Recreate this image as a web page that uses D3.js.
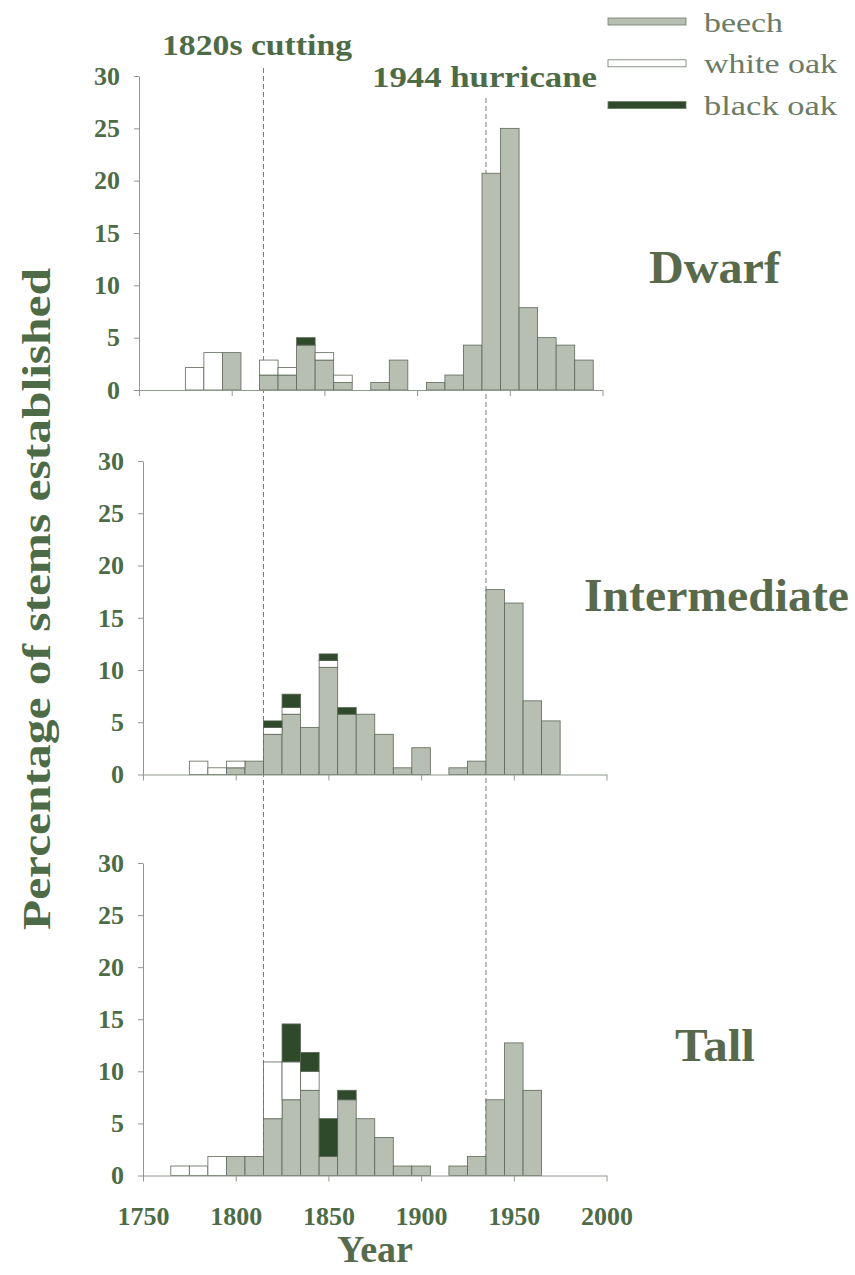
<!DOCTYPE html>
<html>
<head>
<meta charset="utf-8">
<script src="https://cdn.jsdelivr.net/npm/d3@7"></script>
<style>
  html, body { margin: 0; padding: 0; background: #fff; }
  svg { display: block; font-family: "Liberation Serif", "Times New Roman", serif; }
</style>
</head>
<body>
<svg id="chart" width="855" height="1275"></svg>
<script>
// 10-year bins, labelled by their centre year
const years = [1770, 1780, 1790, 1800, 1810, 1820, 1830, 1840, 1850, 1860, 1870, 1880,
  1890, 1900, 1910, 1920, 1930, 1940, 1950, 1960, 1970, 1980, 1990];

const species = ["beech", "white oak", "black oak"];

const dwarfBeech = [0, 0, 0, 3.57, 0, 1.43, 1.43, 4.29, 2.86, 0.71, 0, 0.71,
  2.86, 0, 0.71, 1.43, 4.29, 20.71, 25.0, 7.86, 5.0, 4.29, 2.86];
const dwarfWhite = [0, 2.14, 3.57, 0, 0, 1.43, 0.71, 0, 0.71, 0.71, 0, 0,
  0, 0, 0, 0, 0, 0, 0, 0, 0, 0, 0];
const dwarfBlack = [0, 0, 0, 0, 0, 0, 0, 0.71, 0, 0, 0, 0,
  0, 0, 0, 0, 0, 0, 0, 0, 0, 0, 0];

const interBeech = [0, 0, 0, 0.64, 1.28, 3.85, 5.77, 4.49, 10.26, 5.77, 5.77, 3.85,
  0.64, 2.56, 0, 0.64, 1.28, 17.69, 16.41, 7.05, 5.13, 0, 0];
const interWhite = [0, 1.28, 0.64, 0.64, 0, 0.64, 0.64, 0, 0.64, 0, 0, 0,
  0, 0, 0, 0, 0, 0, 0, 0, 0, 0, 0];
const interBlack = [0, 0, 0, 0, 0, 0.64, 1.28, 0, 0.64, 0.64, 0, 0,
  0, 0, 0, 0, 0, 0, 0, 0, 0, 0, 0];

const tallBeech = [0, 0, 0, 1.82, 1.82, 5.45, 7.27, 8.18, 1.82, 7.27, 5.45, 3.64,
  0.91, 0.91, 0, 0.91, 1.82, 7.27, 12.73, 8.18, 0, 0, 0];
const tallWhite = [0.91, 0.91, 1.82, 0, 0, 5.45, 3.64, 1.82, 0, 0, 0, 0,
  0, 0, 0, 0, 0, 0, 0, 0, 0, 0, 0];
const tallBlack = [0, 0, 0, 0, 0, 0, 3.64, 1.82, 3.64, 0.91, 0, 0,
  0, 0, 0, 0, 0, 0, 0, 0, 0, 0, 0];

const panelNames = ["Dwarf", "Intermediate", "Tall"];
const panelSeries = [
  [dwarfBeech, dwarfWhite, dwarfBlack],
  [interBeech, interWhite, interBlack],
  [tallBeech, tallWhite, tallBlack]
];

const yTicks = [0, 5, 10, 15, 20, 25, 30];
const xTicks = [1750, 1800, 1850, 1900, 1950, 2000];

const events = [
  { year: 1815, label: "1820s cutting" },
  { year: 1935, label: "1944 hurricane" }
];

// ---- layout ----
const green = "#4e6b47";
const axisGrey = "#8e9a8b";
const fills = { "beech": "#b7beb2", "white oak": "#ffffff", "black oak": "#2f4a2b" };

// each panel: baseline, top (value 30), small horizontal offset of the scan
const panelLayout = [
  { y0: 390, y1: 76, dx: -4, label: { x: 649, y: 283, w: 131 } },
  { y0: 774.5, y1: 461, dx: 0, label: { x: 584, y: 611, w: 265 } },
  { y0: 1175.5, y1: 863, dx: 0, label: { x: 675, y: 1061, w: 80 } }
];

const svg = d3.select("#chart");
const x = d3.scaleLinear().domain([1750, 2000]).range([143, 606.5]);

// event lines, drawn first so the bars sit on top
const eventLayout = [{ top: 68, lx: 162, ly: 55, w: 190 }, { top: 98, lx: 372, ly: 87, w: 225 }];
events.forEach((ev, i) => {
  const L = eventLayout[i];
  svg.append("line")
    .attr("x1", x(ev.year)).attr("x2", x(ev.year))
    .attr("y1", L.top).attr("y2", panelLayout[2].y0)
    .attr("stroke", "#857a74").attr("stroke-width", 1)
    .attr("stroke-dasharray", "5,3");
  svg.append("text")
    .attr("x", L.lx).attr("y", L.ly)
    .attr("font-size", 30).attr("font-weight", "bold")
    .attr("fill", green)
    .attr("textLength", L.w).attr("lengthAdjust", "spacingAndGlyphs")
    .text(ev.label);
});

panelNames.forEach((name, p) => {
  const P = panelLayout[p];
  const px = x.copy().range(x.range().map(v => v + P.dx));
  const y = d3.scaleLinear().domain([0, 30]).range([P.y0, P.y1]);
  const g = svg.append("g");

  // stacked bars: beech at the bottom, white oak, black oak on top
  const series = panelSeries[p];
  const rows = years.map((yr, i) => {
    const o = { year: yr };
    species.forEach((s, k) => { o[s] = series[k][i]; });
    return o;
  });
  const stack = d3.stack().keys(species)(rows);
  stack.forEach(layer => {
    g.append("g")
      .selectAll("rect")
      .data(layer.filter(d => d[1] - d[0] > 0))
      .join("rect")
      .attr("x", d => px(d.data.year - 5))
      .attr("width", d => px(d.data.year + 5) - px(d.data.year - 5))
      .attr("y", d => y(d[1]))
      .attr("height", d => y(d[0]) - y(d[1]))
      .attr("fill", fills[layer.key])
      .attr("stroke", "#5d6858")
      .attr("stroke-width", 0.8);
  });

  // axes
  const yAxis = g.append("g")
    .attr("transform", `translate(${px(1750)},0)`)
    .call(d3.axisLeft(y).tickValues(yTicks).tickSize(5).tickSizeOuter(0).tickPadding(14));
  yAxis.selectAll("text")
    .attr("font-family", "Liberation Serif")
    .attr("font-size", 26).attr("font-weight", "bold").attr("fill", green);

  const xAxis = g.append("g")
    .attr("transform", `translate(0,${P.y0})`)
    .call(d3.axisBottom(px).tickValues(xTicks).tickSize(6).tickSizeOuter(0).tickPadding(25)
      .tickFormat(p === 2 ? d3.format("d") : ""));
  xAxis.selectAll("text")
    .attr("font-family", "Liberation Serif")
    .attr("font-size", 26).attr("font-weight", "bold").attr("fill", green);

  [yAxis, xAxis].forEach(a => {
    a.select(".domain").attr("stroke", axisGrey);
    a.selectAll(".tick line").attr("stroke", axisGrey);
  });

  svg.append("text")
    .attr("x", P.label.x).attr("y", P.label.y)
    .attr("font-size", 46).attr("font-weight", "bold")
    .attr("fill", "#596a4c")
    .attr("textLength", P.label.w).attr("lengthAdjust", "spacingAndGlyphs")
    .text(name);
});

// axis titles
svg.append("text")
  .attr("transform", "translate(50,599) rotate(-90)")
  .attr("text-anchor", "middle")
  .attr("font-size", 40).attr("font-weight", "bold").attr("fill", green)
  .attr("textLength", 662).attr("lengthAdjust", "spacingAndGlyphs")
  .text("Percentage of stems established");

svg.append("text")
  .attr("x", 375).attr("y", 1262)
  .attr("text-anchor", "middle")
  .attr("font-size", 38).attr("font-weight", "bold").attr("fill", "#566a4e")
  .text("Year");

// legend
const legendW = [79, 133, 133];
const leg = svg.append("g");
species.forEach((s, i) => {
  const yy = 21.5 + i * 41.8;
  leg.append("rect")
    .attr("x", 608).attr("y", yy - 3.5)
    .attr("width", 78).attr("height", 7)
    .attr("fill", fills[s]).attr("stroke", "#6f7a6b").attr("stroke-width", 0.8);
  leg.append("text")
    .attr("x", 704).attr("y", yy + 10)
    .attr("font-size", 27).attr("fill", "#6b7b66")
    .attr("textLength", legendW[i]).attr("lengthAdjust", "spacingAndGlyphs")
    .text(s);
});
</script>
</body>
</html>
